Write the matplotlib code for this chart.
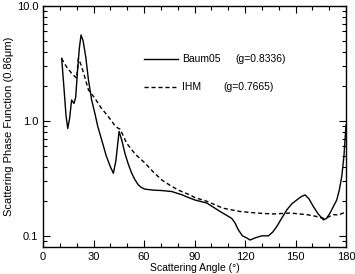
import matplotlib
matplotlib.use("Agg")
import matplotlib.pyplot as plt
from matplotlib.ticker import MultipleLocator, FixedLocator, NullFormatter

plt.rcParams['font.family'] = ['Liberation Sans', 'DejaVu Sans']

baum_angle = [11.1, 12.5, 13.7, 14.7, 15.8, 17.0, 18.4, 19.4, 20.5, 21.6, 22.6, 23.8, 25.4,
              27.0, 28.9, 30.9, 32.5, 34.9, 37.5, 40.0, 41.8, 43.3, 45.2, 46.8, 48.7, 50.7,
              52.7, 54.5, 56.6, 58.5, 60.6, 65.5, 70.5, 76.5, 82.4, 87.3, 90.3, 97.3, 105.2,
              112.1, 114.0, 116.0, 118.5, 121.0, 123.0, 126.0, 129.9, 133.9, 136.5, 138.8,
              141.5, 144.8, 147.8, 150.7, 153.5, 155.7, 158.0, 160.6, 163.5, 166.6, 168.5,
              170.5, 172.5, 174.5, 176.0, 177.5, 178.8, 180.0]
baum_val = [3.5, 1.9, 1.1, 0.86, 1.05, 1.52, 1.42, 1.6, 2.7, 4.3, 5.6, 5.0, 3.6,
            2.27, 1.52, 1.15, 0.9, 0.68, 0.5, 0.4, 0.35, 0.45, 0.81, 0.68, 0.52, 0.42,
            0.35, 0.31, 0.278, 0.263, 0.255, 0.25, 0.248, 0.243, 0.228, 0.213, 0.205, 0.193, 0.163,
            0.142, 0.13, 0.113, 0.1, 0.096, 0.092, 0.096, 0.1, 0.1, 0.108, 0.12,
            0.14, 0.168, 0.19, 0.205, 0.22, 0.227, 0.21, 0.18, 0.155, 0.138, 0.142,
            0.158, 0.18, 0.205, 0.25, 0.33, 0.5, 0.92]

ihm_angle = [11.0, 14.0, 17.0, 20.0, 21.0, 22.5, 24.5, 27.0, 30.9, 34.5, 38.8, 42.5, 44.8, 45.7,
             47.0, 49.7, 55.0, 60.6, 65.5, 70.5, 75.5, 80.4, 87.3, 90.3, 97.3, 107.0, 117.0,
             127.0, 136.8, 146.8, 156.7, 162.0, 166.6, 169.5, 172.5, 175.5, 178.4, 180.0]
ihm_val = [3.5, 2.95, 2.6, 2.35, 3.5, 3.1, 2.5, 1.86, 1.57, 1.3, 1.09, 0.92, 0.86, 0.85,
           0.78, 0.64, 0.51, 0.43, 0.36, 0.307, 0.275, 0.25, 0.227, 0.215, 0.2, 0.174, 0.163,
           0.158, 0.155, 0.158, 0.153, 0.148, 0.142, 0.146, 0.153, 0.152, 0.158, 0.16]

fig = plt.figure(figsize=(3.55, 2.74), dpi=100)
ax = fig.add_axes([43/355, 1-247/274, (346-43)/355, (247-6)/274])

ax.plot(baum_angle, baum_val, color='black', lw=1.0, ls='-', label='Baum05')
ax.plot(ihm_angle, ihm_val, color='black', lw=1.0, ls=(0, (3, 2)), label='IHM')

ax.set_yscale('log')
ax.set_xlim(0, 180)
ax.set_ylim(0.08, 10.0)
ax.xaxis.set_major_locator(MultipleLocator(30))
ax.xaxis.set_minor_locator(MultipleLocator(10))
ax.yaxis.set_major_locator(FixedLocator([0.1, 1.0, 10.0]))
ax.set_yticklabels(['0.1', '1.0', '10.0'])
ax.yaxis.set_minor_formatter(NullFormatter())
ax.tick_params(which='both', direction='in', top=True, right=True, labelsize=8)
ax.tick_params(which='major', length=5, width=0.8)
ax.tick_params(which='minor', length=3, width=0.8)
for s in ax.spines.values():
    s.set_linewidth(1.0)

ax.set_xlabel('Scattering Angle (°)', fontsize=7.5, labelpad=1)
ax.set_ylabel('Scattering Phase Function (0.86μm)', fontsize=8, labelpad=2)

# legend drawn manually
ax.plot([60, 80.4], [3.45, 3.45], color='black', lw=1.0)
ax.text(82.5, 3.45, 'Baum05', fontsize=7.5, va='center', ha='left')
ax.text(114, 3.45, '(g=0.8336)', fontsize=7.5, va='center', ha='left')
ax.plot([60, 80.4], [1.98, 1.98], color='black', lw=1.0, ls=(0, (3, 2)))
ax.text(82.5, 1.98, 'IHM', fontsize=7.5, va='center', ha='left')
ax.text(107, 1.98, '(g=0.7665)', fontsize=7.5, va='center', ha='left')

fig.savefig('out.png', dpi=100)
